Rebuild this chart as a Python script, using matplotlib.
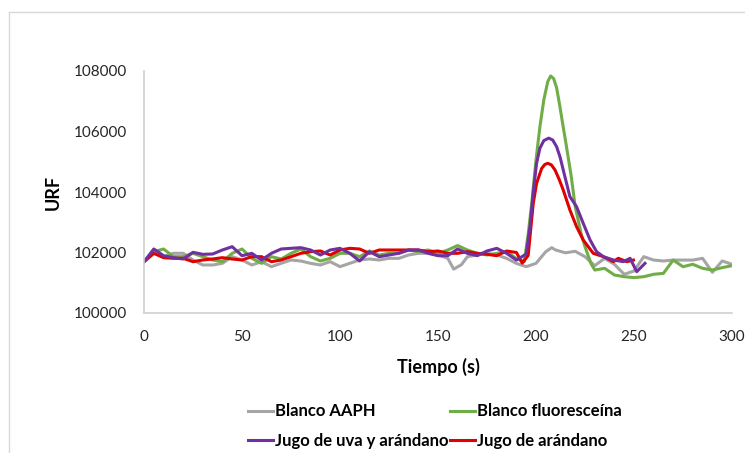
import matplotlib
matplotlib.use("Agg")
import matplotlib.pyplot as plt
from matplotlib.lines import Line2D

plt.rcParams['font.family'] = ['Lato', 'DejaVu Sans']

# Blanco AAPH
t_aaph = [0, 5, 10, 15, 20, 25, 30, 35, 40, 45, 50, 55, 60, 65,
          70, 75, 80, 85, 90, 95, 100, 105, 110, 115, 120, 125, 130, 135,
          140, 145, 150, 155, 158, 162, 165, 170, 175, 180, 185, 190, 195,
          200, 205, 208, 210, 215, 220, 225, 230, 235, 240, 245, 250, 255,
          260, 265, 270, 275, 280, 285, 290, 295, 300]
v_aaph = [101696, 101973, 101862, 101973, 101973, 101752, 101587, 101587, 101642, 101862, 101752, 101587, 101696, 101532,
          101642, 101752, 101719, 101642, 101587, 101697, 101532, 101642, 101752, 101785, 101752, 101807, 101807, 101917,
          101973, 101973, 101917, 101807, 101450, 101600, 101862, 101917, 101973, 101917, 101807, 101640, 101532,
          101640, 102028, 102160, 102083, 101990, 102040, 101862, 101565, 101807, 101610, 101280, 101390, 101862,
          101750, 101720, 101750, 101750, 101750, 101807, 101345, 101720, 101610]

# Blanco fluoresceina
t_fluo = [0, 5, 10, 15, 20, 25, 30, 35, 40, 45, 50, 55, 60, 65,
          70, 75, 80, 85, 90, 95, 100, 105, 110, 115, 120, 125, 130, 135,
          140, 145, 150, 155, 160, 165, 170, 175, 180, 185, 190, 194,
          196, 198, 200, 202, 204, 206, 207.5, 209, 210.5, 212, 213.5, 215, 218, 220, 223, 225, 228,
          230, 235, 240, 245, 250, 255, 260, 265, 270, 275, 280, 285, 290, 295, 300]
v_fluo = [101696, 102027, 102116, 101862, 101862, 101973, 101862, 101752, 101697, 101973, 102116, 101807, 101642, 101862,
          101785, 101973, 102116, 101862, 101719, 101807, 101973, 101973, 101862, 102050, 101917, 101973, 101973, 102083,
          102027, 102083, 101973, 102083, 102230, 102083, 101973, 101917, 101973, 102027, 101800, 101700,
          102600, 103736, 105058, 106160, 107050, 107650, 107835, 107750, 107450, 106900, 106300, 105720, 104507, 103515, 102634, 102193, 101642,
          101420, 101477, 101256, 101200, 101170, 101200, 101280, 101310, 101750, 101530, 101610, 101477, 101420, 101500, 101565]

# Jugo de uva y arandano
t_uva = [0, 5, 10, 15, 20, 25, 30, 35, 40, 45, 50, 55, 60, 65,
         70, 75, 80, 85, 90, 95, 100, 105, 110, 115, 120, 125, 130, 135,
         140, 145, 150, 155, 160, 165, 170, 175, 180, 185, 190, 195,
         197, 198.6, 200.3, 202, 204, 206.5, 208.5, 210.5, 212.3, 213.9, 217.3, 220.7, 224.1, 227.6,
         230.9, 234.4, 239.5, 244.6, 248, 251.4, 255.6]
v_uva = [101696, 102116, 101894, 101828, 101785, 102006, 101940, 101950, 102083, 102192, 101894, 101973, 101752, 101973,
         102116, 102138, 102160, 102083, 101917, 102083, 102138, 101973, 101719, 102027, 101862, 101917, 101973, 102083,
         102083, 101973, 101895, 101895, 102116, 101973, 101895, 102050, 102138, 101973, 101750, 101950,
         102900, 104000, 104950, 105450, 105700, 105780, 105720, 105500, 105150, 104728, 103846, 103515, 102964, 102413,
         102027, 101862, 101752, 101697, 101808, 101366, 101642]

# Jugo de arandano
t_aran = [0, 5, 10, 15, 20, 25, 30, 35, 40, 45, 50, 55, 60, 65,
          70, 75, 80, 85, 90, 95, 100, 105, 110, 115, 120, 125, 130, 135,
          140, 145, 150, 155, 160, 165, 170, 175, 180, 185, 190, 193, 196,
          198.6, 200.3, 202.9, 204.5, 206, 207.8, 209.7, 211.8, 213.9, 217.3, 220.7, 224.1, 229.2,
          234.4, 239.5, 242, 246.3, 249.7]
v_aran = [101696, 101973, 101828, 101808, 101808, 101696, 101752, 101785, 101829, 101785, 101752, 101862, 101862, 101696,
          101752, 101862, 101973, 102027, 102050, 101917, 102083, 102138, 102116, 101973, 102083, 102083, 102083, 102083,
          102083, 102027, 102050, 101973, 101973, 102027, 101973, 101940, 101895, 102050, 102000, 101650, 101900,
          103626, 104287, 104780, 104910, 104948, 104900, 104728, 104420, 104066, 103405, 102853, 102413, 101973,
          101862, 101697, 101808, 101697, 101750]

fig = plt.figure(figsize=(7.45, 4.53), dpi=100)
ax = fig.add_axes([144 / 745, 1 - 313 / 453, 588 / 745, 242 / 453])

lw = 2.2
l1, = ax.plot(t_aaph, v_aaph, color='#A5A5A5', lw=lw, label='Blanco AAPH')
l2, = ax.plot(t_fluo, v_fluo, color='#70AD47', lw=lw, label='Blanco fluoresceína')
l4, = ax.plot(t_aran, v_aran, color='#E00000', lw=lw, label='Jugo de arándano')
l3, = ax.plot(t_uva, v_uva, color='#7030A0', lw=lw, label='Jugo de uva y arándano')

ax.set_xlim(0, 300)
ax.set_ylim(100000, 108000)
ax.set_xticks([0, 50, 100, 150, 200, 250, 300])
ax.set_yticks([100000, 102000, 104000, 106000, 108000])
for s in ['top', 'right']:
    ax.spines[s].set_visible(False)
for s in ['left', 'bottom']:
    ax.spines[s].set_color('#D0D0D0')
    ax.spines[s].set_linewidth(1.2)
ax.tick_params(axis='both', length=0, labelsize=11, labelcolor='#262626')
ax.tick_params(axis='y', pad=12)
ax.tick_params(axis='x', pad=12)

ax.set_xlabel('Tiempo (s)', fontsize=13, fontweight='bold', labelpad=10)
ax.set_ylabel('URF', fontsize=13, fontweight='bold', labelpad=9)

fig.legend(handles=[l1, l3, l2, l4], ncol=2, frameon=False,
           loc='center', bbox_to_anchor=(435 / 745, 1 - 426 / 453),
           prop={'weight': 'bold', 'size': 12},
           handlelength=1.5, handletextpad=0.12, columnspacing=0.05,
           labelspacing=0.8)

# chart area border
fig.add_artist(Line2D([9 / 745, 9 / 745], [0, 1 - 12 / 453], color='#D9D9D9', lw=1))
fig.add_artist(Line2D([9 / 745, 1], [1 - 12 / 453, 1 - 12 / 453], color='#D9D9D9', lw=1))

fig.savefig('out.png', dpi=100)
